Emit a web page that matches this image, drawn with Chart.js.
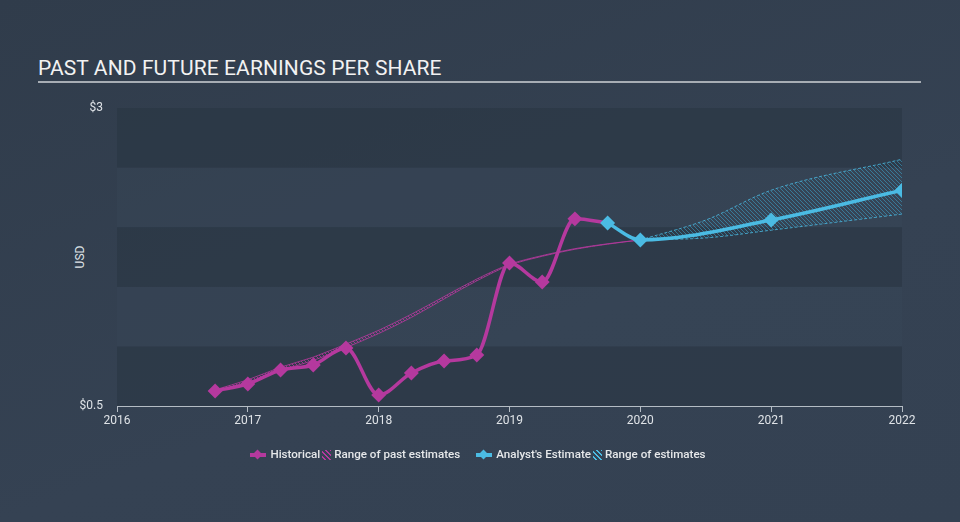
<!DOCTYPE html>
<html>
<head>
<meta charset="utf-8">
<script src="https://cdn.jsdelivr.net/npm/chart.js@4.4.0/dist/chart.umd.min.js"></script>
<style>
  html, body { margin: 0; padding: 0; }
  body { width: 960px; height: 522px; background: linear-gradient(160deg, #303c4b 0%, #354253 60%, #344152 100%); overflow: hidden; position: relative; font-family: Roboto, "Noto Sans", sans-serif; }
  #title { position: absolute; left: 38px; top: 56px; color: #f2f2f2; font-size: 21px; letter-spacing: 0.1px; }
  #rule { position: absolute; left: 38px; top: 81px; width: 883px; height: 2px; background: #a7adb4; }
  #usd { position: absolute; left: 60px; top: 250px; width: 40px; text-align: center; transform: rotate(-90deg); color: #dfe3e7; font-size: 12px; }
  #wrap { position: absolute; left: 0; top: 0; width: 960px; height: 522px; }
  #legend { position: absolute; top: 446px; left: 0; width: 956px; text-align: center; color: #e6e8ea; font-size: 11.6px; font-family: Roboto, sans-serif; font-weight: 500; }
  #legend .item { display: inline-block; vertical-align: middle; margin: 0 3px; }
  .ico { display: inline-block; position: relative; width: 16px; height: 10px; vertical-align: middle; margin-right: 4px; }
  .ico .ln { position: absolute; left: 0; top: 3px; width: 16px; height: 4px; }
  .ico .dm { position: absolute; left: 4px; top: 1px; width: 7px; height: 7px; transform: rotate(45deg); }
  .hatch { display: inline-block; width: 9px; height: 10px; vertical-align: middle; margin: 0 3px 0 2px; }
</style>
</head>
<body>
<div id="title">PAST AND FUTURE EARNINGS PER SHARE</div>
<div id="rule"></div>
<div id="usd">USD</div>
<div id="wrap"><canvas id="eps" width="960" height="522"></canvas></div>
<div id="legend">
  <span class="item"><span class="ico"><span class="ln" style="background:#b5399e"></span><span class="dm" style="background:#b5399e"></span></span>Historical<span class="hatch" style="background:repeating-linear-gradient(45deg, transparent 0 2px, #b5399e 2px 3.5px)"></span>Range of past estimates</span>
  <span class="item" style="margin-left:10px"><span class="ico"><span class="ln" style="background:#4bbbe3"></span><span class="dm" style="background:#4bbbe3"></span></span>Analyst's Estimate<span class="hatch" style="background:repeating-linear-gradient(45deg, transparent 0 2px, #4bbbe3 2px 3.5px)"></span>Range of estimates</span>
</div>
<script>
// dates in decimal years
const histDates = [2016.75, 2017.0, 2017.25, 2017.5, 2017.75, 2018.0, 2018.25, 2018.5, 2018.75, 2019.0, 2019.25, 2019.5, 2019.75];
const histEps = [0.626, 0.685, 0.802, 0.844, 0.987, 0.592, 0.777, 0.878, 0.928, 1.70, 1.54, 2.07, 2.035];

const pastRangeDates = [2016.75, 2017.0, 2017.25, 2017.5, 2017.75, 2018.0, 2018.25, 2018.5, 2018.75, 2019.0, 2019.25, 2019.5, 2019.75, 2020.0];
const pastRangeHigh = [0.636, 0.72, 0.825, 0.91, 1.02, 1.135, 1.27, 1.418, 1.565, 1.688, 1.762, 1.82, 1.861, 1.893];
const pastRangeLow = [0.630, 0.70, 0.798, 0.882, 0.99, 1.108, 1.243, 1.398, 1.550, 1.680, 1.756, 1.815, 1.858, 1.893];

const estDates = [2019.75, 2020.0, 2021.0, 2022.0];
const estEps = [2.035, 1.893, 2.06, 2.31];

const rangeDates = [2020.0, 2020.5, 2021.0, 2022.0];
const rangeHigh = [1.893, 2.06, 2.31, 2.57];
const rangeLow = [1.893, 1.91, 1.975, 2.11];

const yearTicks = [2016, 2017, 2018, 2019, 2020, 2021, 2022];

const MAGENTA = '#b5399e';
const CYAN = '#4bbbe3';

function hatch(color) {
  const c = document.createElement('canvas');
  c.width = 4; c.height = 4;
  const g = c.getContext('2d');
  g.strokeStyle = color;
  g.lineWidth = 1;
  g.beginPath();
  g.moveTo(0, 0); g.lineTo(4, 4);
  g.moveTo(-1, 3); g.lineTo(1, 5);
  g.moveTo(3, -1); g.lineTo(5, 1);
  g.stroke();
  return g.createPattern(c, 'repeat');
}

const pts = (xs, ys) => xs.map((x, i) => ({ x: x, y: ys[i] }));

// alternating horizontal bands behind the lines
const bands = {
  id: 'bands',
  beforeDatasetsDraw(chart) {
    const { ctx, chartArea: a, scales: { y } } = chart;
    ctx.save();
    for (let v = 0.5, i = 0; v < 3; v += 0.5, i++) {
      const top = y.getPixelForValue(v + 0.5);
      const bot = y.getPixelForValue(v);
      ctx.fillStyle = i % 2 === 0 ? 'rgba(40,52,66,0.55)' : 'rgba(58,72,90,0.35)';
      ctx.fillRect(a.left, top, a.right - a.left, bot - top);
    }
    ctx.restore();
  }
};

const ctx = document.getElementById('eps').getContext('2d');

new Chart(ctx, {
  type: 'line',
  data: {
    datasets: [
      {
        data: pts(pastRangeDates, pastRangeHigh),
        borderColor: 'rgba(181,57,158,0.8)', borderWidth: 1, pointRadius: 0,
        backgroundColor: hatch('rgba(181,57,158,0.8)'), fill: '+1',
        cubicInterpolationMode: 'monotone', order: 4
      },
      {
        data: pts(pastRangeDates, pastRangeLow),
        borderColor: 'rgba(181,57,158,0.8)', borderWidth: 1, pointRadius: 0,
        fill: false, cubicInterpolationMode: 'monotone', order: 4
      },
      {
        data: pts(rangeDates, rangeHigh),
        borderColor: 'rgba(75,187,227,0.8)', borderWidth: 1, borderDash: [3, 2], pointRadius: 0,
        backgroundColor: hatch('rgba(60,165,205,0.55)'), fill: '+1',
        cubicInterpolationMode: 'monotone', order: 3
      },
      {
        data: pts(rangeDates, rangeLow),
        borderColor: 'rgba(75,187,227,0.8)', borderWidth: 1, borderDash: [3, 2], pointRadius: 0,
        fill: false, cubicInterpolationMode: 'monotone', order: 3
      },
      {
        data: pts(histDates, histEps),
        borderColor: MAGENTA, backgroundColor: MAGENTA, borderWidth: 3.5,
        pointStyle: 'rectRot', pointRadius: c => c.dataIndex === histDates.length - 1 ? 0 : 5,
        fill: false, cubicInterpolationMode: 'monotone', order: 2
      },
      {
        data: pts(estDates, estEps),
        borderColor: CYAN, backgroundColor: CYAN, borderWidth: 3.5,
        pointStyle: 'rectRot', pointRadius: 5,
        fill: false, cubicInterpolationMode: 'monotone', order: 1
      }
    ]
  },
  options: {
    responsive: false,
    animation: false,
    layout: { padding: { left: 0, top: 108, right: 58, bottom: 86 } },
    plugins: { legend: { display: false }, tooltip: { enabled: false } },
    scales: {
      x: {
        type: 'linear', min: 2016, max: 2022,
        afterBuildTicks: s => { s.ticks = yearTicks.map(v => ({ value: v })); },
        afterFit: s => { s.height = 30; },
        ticks: { color: '#dfe3e7', font: { family: 'Roboto', size: 12 }, padding: 2, callback: v => String(v) },
        grid: { display: true, drawOnChartArea: false, drawTicks: true, tickLength: 6, color: '#b4bcc4' },
        border: { display: true, color: '#b4bcc4', width: 1 }
      },
      y: {
        min: 0.5, max: 3,
        afterFit: s => { s.width = 117; },
        ticks: {
          stepSize: 0.5, color: '#dfe3e7', font: { family: 'Roboto', size: 12 }, padding: 14,
          callback: v => v === 3 ? '$3' : (v === 0.5 ? '$0.5' : '')
        },
        grid: { display: true, drawOnChartArea: false, drawTicks: false },
        border: { display: false }
      }
    }
  },
  plugins: [bands]
});
</script>
</body>
</html>
